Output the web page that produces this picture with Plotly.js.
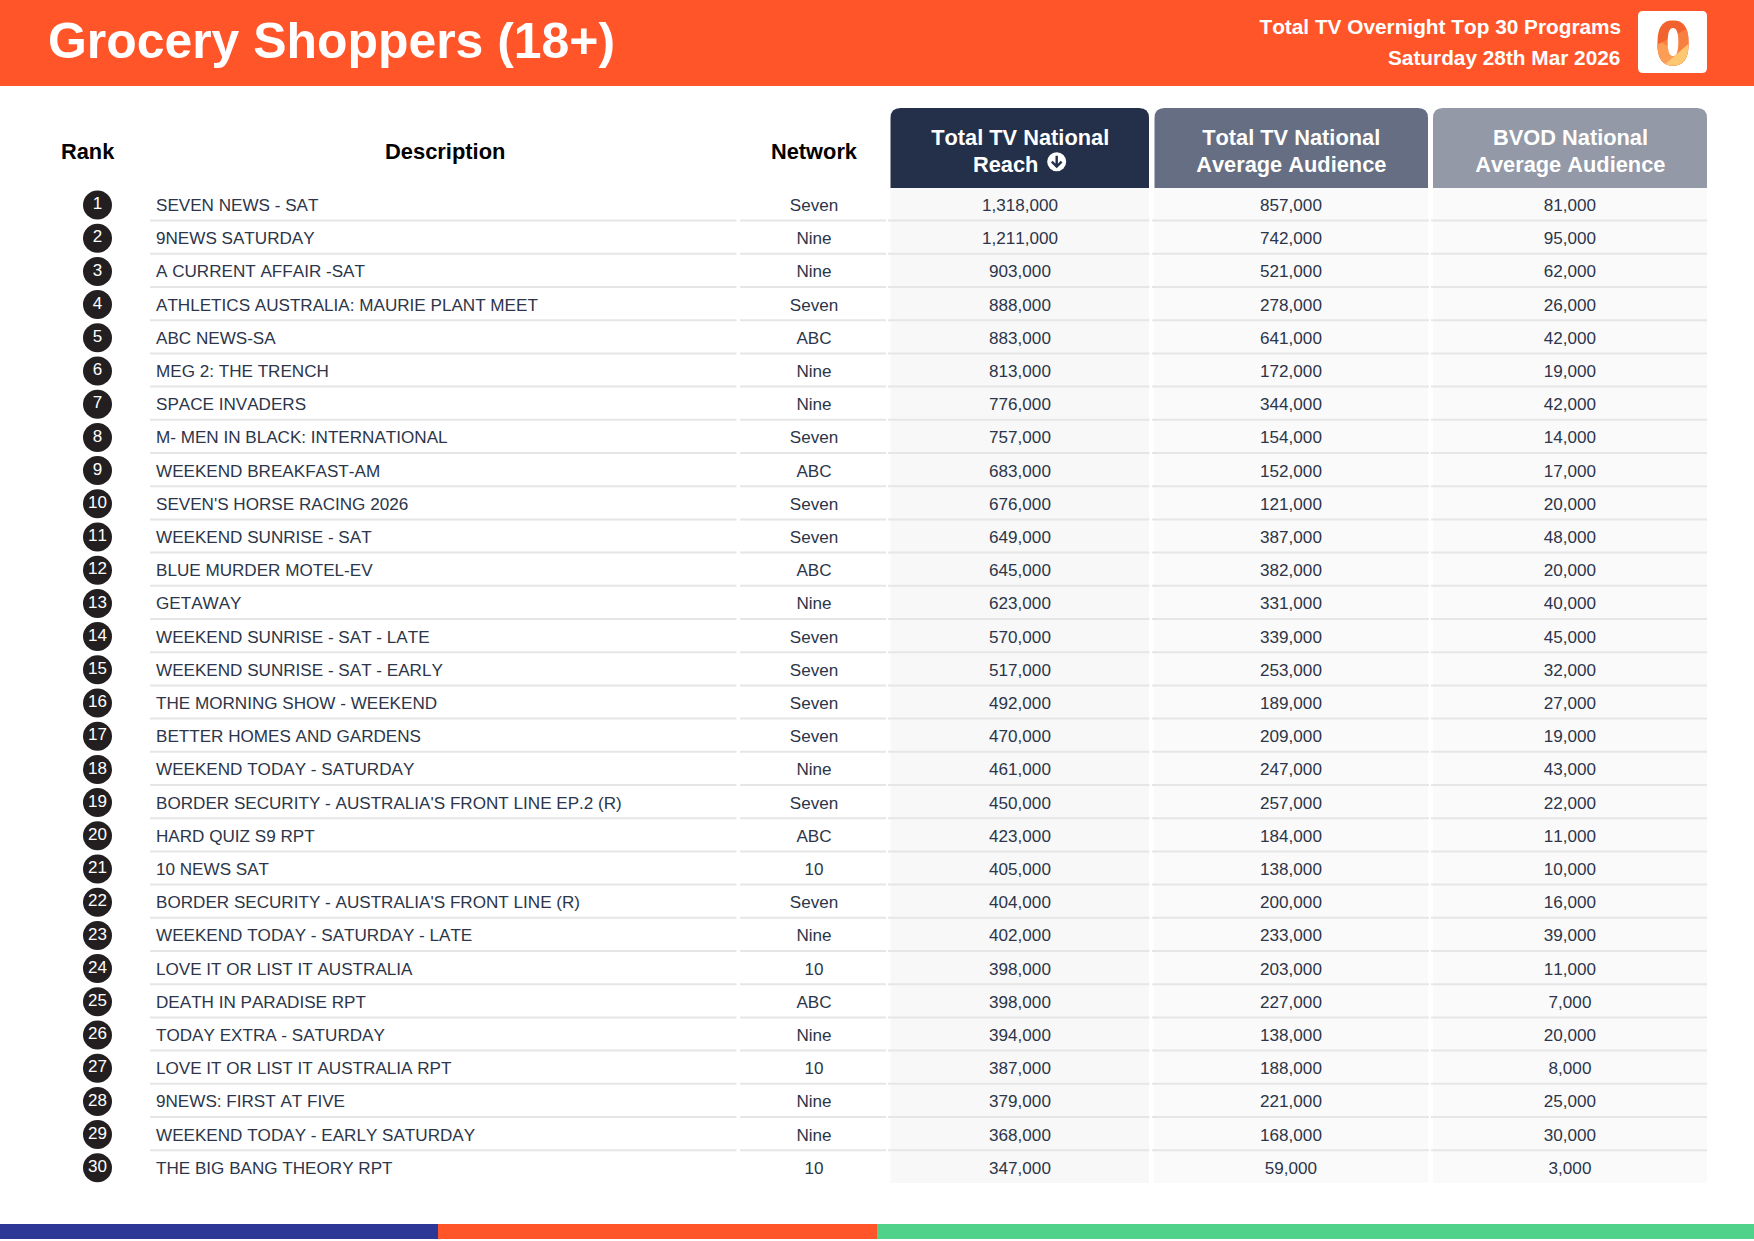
<!DOCTYPE html>
<html><head><meta charset="utf-8">
<script src="https://cdn.plot.ly/plotly-3.0.1.min.js"></script>
<style>html,body{margin:0;padding:0;background:#fff}#chart{width:1754px;height:1241px}#chart text{font-kerning:none}</style>
</head><body><div id="chart"></div>
<script>
const ranks = [1,2,3,4,5,6,7,8,9,10,11,12,13,14,15,16,17,18,19,20,21,22,23,24,25,26,27,28,29,30];
const descriptions = ["SEVEN NEWS - SAT","9NEWS SATURDAY","A CURRENT AFFAIR -SAT","ATHLETICS AUSTRALIA: MAURIE PLANT MEET","ABC NEWS-SA","MEG 2: THE TRENCH","SPACE INVADERS","M- MEN IN BLACK: INTERNATIONAL","WEEKEND BREAKFAST-AM","SEVEN'S HORSE RACING 2026","WEEKEND SUNRISE - SAT","BLUE MURDER MOTEL-EV","GETAWAY","WEEKEND SUNRISE - SAT - LATE","WEEKEND SUNRISE - SAT - EARLY","THE MORNING SHOW - WEEKEND","BETTER HOMES AND GARDENS","WEEKEND TODAY - SATURDAY","BORDER SECURITY - AUSTRALIA'S FRONT LINE EP.2 (R)","HARD QUIZ S9 RPT","10 NEWS SAT","BORDER SECURITY - AUSTRALIA'S FRONT LINE (R)","WEEKEND TODAY - SATURDAY - LATE","LOVE IT OR LIST IT AUSTRALIA","DEATH IN PARADISE RPT","TODAY EXTRA - SATURDAY","LOVE IT OR LIST IT AUSTRALIA RPT","9NEWS: FIRST AT FIVE","WEEKEND TODAY - EARLY SATURDAY","THE BIG BANG THEORY RPT"];
const networks = ["Seven","Nine","Nine","Seven","ABC","Nine","Nine","Seven","ABC","Seven","Seven","ABC","Nine","Seven","Seven","Seven","Seven","Nine","Seven","ABC","10","Seven","Nine","10","ABC","Nine","10","Nine","Nine","10"];
const reach = [1318000,1211000,903000,888000,883000,813000,776000,757000,683000,676000,649000,645000,623000,570000,517000,492000,470000,461000,450000,423000,405000,404000,402000,398000,398000,394000,387000,379000,368000,347000];
const avgAudience = [857000,742000,521000,278000,641000,172000,344000,154000,152000,121000,387000,382000,331000,339000,253000,189000,209000,247000,257000,184000,138000,200000,233000,203000,227000,138000,188000,221000,168000,59000];
const bvod = [81000,95000,62000,26000,42000,19000,42000,14000,17000,20000,48000,20000,40000,45000,32000,27000,19000,43000,22000,11000,10000,16000,39000,11000,7000,20000,8000,25000,30000,3000];

const W = 1754, H = 1241, ROW0 = 205, ROWH = 33.2, TEXT_SHIFT = 0.05;
const FONT = '"Liberation Sans", Arial, sans-serif';
const INK = '#2c3549';
const fmt = v => v.toLocaleString('en-US');
const fx = x => x / W, fy = y => 1 - y / H;
const same = (v) => ranks.map(() => v);

function textTrace(x, text, pos) {
  return {type:'scatter', mode:'text', x:same(x), y:ranks.map(r=>r+TEXT_SHIFT), text:text, textposition:pos||'middle center',
    textfont:{family:FONT, size:17.1, color:INK}, hoverinfo:'skip', showlegend:false};
}
const traces = [
  {type:'scatter', mode:'markers+text', x:same(97.5), y:ranks, text:ranks.map(String), textposition:'middle center',
   marker:{size:29, color:'#231f20', line:{width:0}}, textfont:{family:FONT, size:17, color:'#ffffff'}, hoverinfo:'skip', showlegend:false},
  textTrace(156, descriptions, 'middle right'),
  textTrace(814, networks),
  textTrace(1020, reach.map(fmt)),
  textTrace(1291, avgAudience.map(fmt)),
  textTrace(1570, bvod.map(fmt))
];

function rect(x0,y0,x1,y1,color){
  return {type:'rect', xref:'paper', yref:'paper', x0:fx(x0), x1:fx(x1), y0:fy(y0), y1:fy(y1), fillcolor:color, line:{width:0}, layer:'below'};
}
function pt(x,y){ return fx(x)+','+fy(y); }
function topRound(x0,y0,x1,y1,r,color){
  return {type:'path', xref:'paper', yref:'paper', layer:'below', fillcolor:color, line:{width:0},
    path:'M'+pt(x0,y1)+' L'+pt(x0,y0+r)+' Q'+pt(x0,y0)+' '+pt(x0+r,y0)+' L'+pt(x1-r,y0)+' Q'+pt(x1,y0)+' '+pt(x1,y0+r)+' L'+pt(x1,y1)+' Z'};
}
function allRound(x0,y0,x1,y1,r,color){
  return {type:'path', xref:'paper', yref:'paper', layer:'below', fillcolor:color, line:{width:0},
    path:'M'+pt(x0,y1-r)+' L'+pt(x0,y0+r)+' Q'+pt(x0,y0)+' '+pt(x0+r,y0)+' L'+pt(x1-r,y0)+' Q'+pt(x1,y0)+' '+pt(x1,y0+r)+' L'+pt(x1,y1-r)+' Q'+pt(x1,y1)+' '+pt(x1-r,y1)+' L'+pt(x0+r,y1)+' Q'+pt(x0,y1)+' '+pt(x0,y1-r)+' Z'};
}
// Logo glyph: superellipse ring with clipped colour facets
function superEllipse(cx,cy,a,b,n){
  const out=[];
  for(let i=0;i<72;i++){
    const t=i/72*2*Math.PI, c=Math.cos(t), s=Math.sin(t);
    out.push([cx+a*Math.sign(c)*Math.pow(Math.abs(c),2/n), cy+b*Math.sign(s)*Math.pow(Math.abs(s),2/n)]);
  }
  return out;
}
function clip(poly,ax,ay,bx,by){ // keep points on the +cross side of a->b
  const side=p=>(bx-ax)*(p[1]-ay)-(by-ay)*(p[0]-ax), out=[];
  poly.forEach((p,i)=>{
    const q=poly[(i+1)%poly.length], sp=side(p), sq=side(q);
    if(sp>=0) out.push(p);
    if((sp>=0)!==(sq>=0)){ const t=sp/(sp-sq); out.push([p[0]+(q[0]-p[0])*t,p[1]+(q[1]-p[1])*t]); }
  });
  return out;
}
function polyShape(poly,color,layer){
  return {type:'path', xref:'paper', yref:'paper', layer:layer||'below', fillcolor:color, line:{width:0},
    path:'M'+poly.map(p=>pt(p[0],p[1])).join(' L')+' Z'};
}
const logoOuter = superEllipse(1673,43,15.5,22.5,2.5);
const logoHole = superEllipse(1673,42,5.3,14,2.4);
const facet2 = clip(logoOuter,1655,46,1692,26);
const facet3 = clip(clip(logoOuter,1655,38,1692,62),1655,46,1692,26);
const facet4 = clip(logoOuter,1662,67,1686,46);

const shapes = [
  rect(0,0,W,86,'#ff5528'),
  allRound(1638,11,1707,73,5,'#ffffff'),
  polyShape(logoOuter,'#f2622f'),
  polyShape(facet2,'#f77f3f'),
  polyShape(facet3,'#fb9d55'),
  polyShape(facet4,'#fdc671'),
  polyShape(logoHole,'#ffffff'),
  rect(890.5,188,1149,1183,'#f8f8f8'),
  rect(1154,188,1428,1183,'#fafafa'),
  rect(1433,188,1707,1183,'#fafafa'),
  topRound(890.5,108,1149,188,10,'#243049'),
  topRound(1154.5,108,1428,188,10,'#656e82'),
  topRound(1433,108,1707,188,10,'#9399a6'),
  rect(0,1224,438,1239,'#2d3796'),
  rect(438,1224,877,1239,'#ff5528'),
  rect(877,1224,W,1239,'#50d28a')
];
// row rules, placed on the rank axis just under each row
const ruleSpans = [[150,736.5],[740,886],[888,1149.5],[1152,1429],[1431,1707]];
ranks.slice(0,-1).forEach(r => ruleSpans.forEach(s => shapes.push({
  type:'line', xref:'x', yref:'y', x0:s[0], x1:s[1], y0:r+0.47, y1:r+0.47, line:{color:'#e6e6e6', width:2}, layer:'below'
})));
// sort arrow icon
shapes.push({type:'circle', xref:'paper', yref:'paper', x0:fx(1047.2), x1:fx(1066.2), y0:fy(152.2), y1:fy(171.2), fillcolor:'#ffffff', line:{width:0}, layer:'above'});
shapes.push({type:'path', xref:'paper', yref:'paper', layer:'above', fillcolor:'rgba(0,0,0,0)', line:{color:'#243049', width:2.4},
  path:'M'+pt(1056.7,155.8)+' L'+pt(1056.7,166.6)+' M'+pt(1051.8,161.6)+' L'+pt(1056.7,166.6)+' L'+pt(1061.6,161.6)});

function label(text,x,y,size,color,bold,anchor){
  return {xref:'paper', yref:'paper', x:fx(x), y:fy(y), text:bold===false?text:'<b>'+text+'</b>', showarrow:false,
    xanchor:anchor||'center', yanchor:'middle', font:{family:FONT, size:size, color:color}};
}
const annotations = [
  label('Total TV Overnight Top 30 Programs',1622,27,20.8,'#ffffff',true,'right'),
  label('Saturday 28th Mar 2026',1622,58,20.8,'#ffffff',true,'right'),
  label('Rank',87.8,151.4,21.8,'#000000'),
  label('Description',445,151.4,21.9,'#000000'),
  label('Network',814.6,151.4,21.8,'#000000'),
  label('Total TV National',1020,137,21.8,'#ffffff'),
  label('Reach',1005.4,164.5,21.8,'#ffffff'),
  label('Total TV National',1291,137,21.8,'#ffffff'),
  label('Average Audience',1291,164.5,21.8,'#ffffff'),
  label('BVOD National',1570,137,21.8,'#ffffff'),
  label('Average Audience',1570,164.5,21.8,'#ffffff')
];

const layout = {
  width:W, height:H, margin:{l:0,r:0,t:0,b:0}, paper_bgcolor:'#ffffff', plot_bgcolor:'rgba(0,0,0,0)',
  title:{text:'<b>Grocery Shoppers (18+)</b>', x:fx(48), xanchor:'left', y:fy(41), yanchor:'middle', font:{family:FONT, size:49.9, color:'#ffffff'}},
  xaxis:{range:[0,W], visible:false, fixedrange:true},
  yaxis:{range:[1+(H-ROW0)/ROWH, 1-ROW0/ROWH], visible:false, fixedrange:true},
  showlegend:false, shapes:shapes, annotations:annotations, hovermode:false
};
Plotly.newPlot('chart', traces, layout, {displayModeBar:false, staticPlot:true});
</script></body></html>
